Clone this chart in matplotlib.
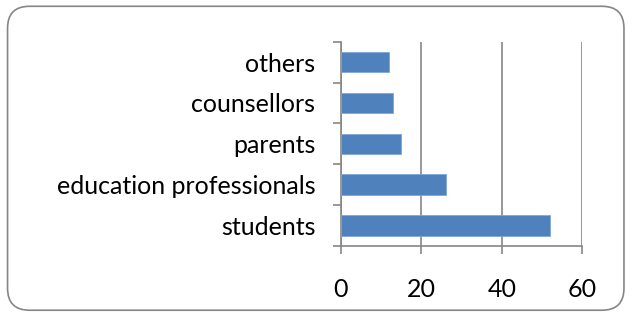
import matplotlib.pyplot as plt
from matplotlib.patches import FancyBboxPatch

# data (bottom to top)
categories = ['students', 'education professionals', 'parents', 'counsellors', 'others']
counts = [52, 26, 15, 13, 12]
x_ticks = [0, 20, 40, 60]

plt.rcParams['font.family'] = ['Lato', 'DejaVu Sans']

fig = plt.figure(figsize=(6.29, 3.14), dpi=100)
ax = fig.add_axes([0.5421, 0.2166, 0.3837, 0.6506])

grey = '#868686'
ax.barh(range(len(categories)), counts, height=0.5, color='#4F81BD',
        edgecolor='#7FA6D6', linewidth=0.6, zorder=3)

ax.set_xlim(0, 60)
ax.set_ylim(-0.5, len(categories) - 0.5)
ax.set_xticks(x_ticks)
ax.set_xticklabels([str(t) for t in x_ticks], fontsize=18)

# category labels centred, ticks on boundaries
ax.set_yticks(range(len(categories)))
ax.set_yticklabels(categories, fontsize=18)
ax.tick_params(axis='y', length=0, pad=18.5)
ax.set_yticks([i - 0.5 for i in range(len(categories) + 1)], minor=True)
ax.tick_params(axis='y', which='minor', length=6, color=grey, width=1.2)
ax.tick_params(axis='x', length=6, color=grey, width=1.2, pad=17)

ax.xaxis.grid(True, color=grey, linewidth=1.2, zorder=0)
ax.set_axisbelow(True)
for s in ['top', 'right']:
    ax.spines[s].set_visible(False)
for s in ['left', 'bottom']:
    ax.spines[s].set_color(grey)
    ax.spines[s].set_linewidth(1.2)

# rounded chart border
border = FancyBboxPatch((0.012, 0.012), 0.98, 0.968,
                        boxstyle='round,pad=0,rounding_size=0.035',
                        transform=fig.transFigure, facecolor='none',
                        edgecolor=grey, linewidth=1.2,
                        mutation_aspect=2.0)
fig.patches.append(border)

fig.savefig('out.png', dpi=100)
